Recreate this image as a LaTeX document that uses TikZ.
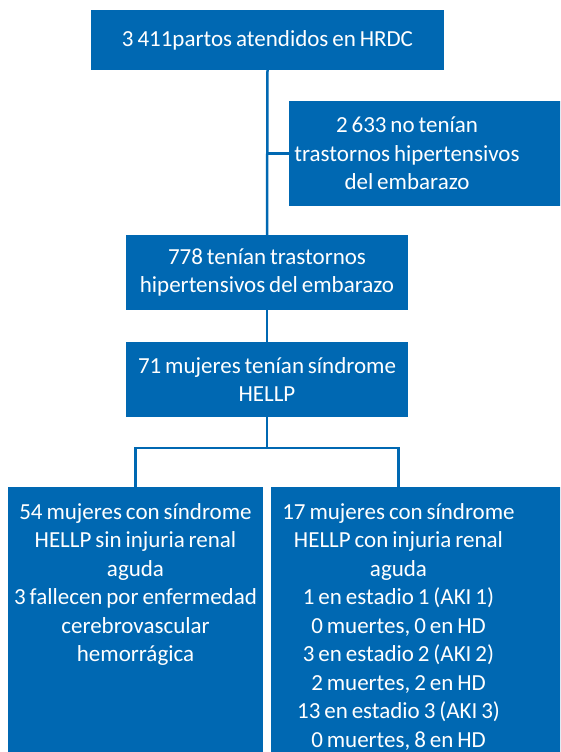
\documentclass[tikz,border=0pt]{standalone}
\usepackage{fontspec}
\setmainfont[WordSpace=0.75]{Carlito}
\definecolor{azul}{RGB}{0,104,178}

\begin{document}
\begin{tikzpicture}[x=1pt,y=-1pt,
  caja/.style={fill=azul,text=white,align=flush center,inner sep=0pt,
    font=\fontsize{23}{28.5}\selectfont},
  linea/.style={draw=azul,line width=2.5pt}]
\clip (0,0) rectangle (560,752);

\node[caja,minimum width=353,minimum height=60] (partos) at (267.5,40) {3 411partos atendidos en HRDC};
\node[caja,minimum width=236,minimum height=105] (sinthe) at (407,153.5) {2 633 no tenían\\trastornos hipertensivos\\del embarazo};
\fill[azul] (sinthe.north east) rectangle ([xshift=40pt]sinthe.south east);

\node[caja,minimum width=282,minimum height=75] (conthe) at (267,272.5) {778 tenían trastornos\\hipertensivos del embarazo};
\node[caja,minimum width=282,minimum height=75] (hellp) at (267,379.5) {71 mujeres tenían síndrome\\HELLP};

\node[caja,anchor=north,text width=255pt,text height=18pt,text depth=250pt,inner ysep=14pt] (sinaki) at (135.5,487)
  {54 mujeres con síndrome\\HELLP sin injuria renal\\aguda\\3 fallecen por enfermedad\\cerebrovascular\\hemorrágica};
\node[caja,anchor=north,text width=255pt,text height=18pt,text depth=250pt,inner ysep=14pt] (conaki) at (398.5,487)
  {17 mujeres con síndrome\\HELLP con injuria renal\\aguda\\1 en estadio 1 (AKI 1)\\0 muertes, 0 en HD\\3 en estadio 2 (AKI 2)\\2 muertes, 2 en HD\\13 en estadio 3 (AKI 3)\\0 muertes, 8 en HD};
\fill[azul] (conaki.north east) rectangle ([xshift=40pt]conaki.south east);

\coordinate (rama) at ([yshift=-31pt]hellp.south);

\draw[linea] (partos.south) -- (conthe.north);
\draw[linea] (sinthe.west) -- (sinthe.west -| partos.south);
\draw[linea] (conthe.south) -- (hellp.north);
\draw[linea] (hellp.south) -- (rama);
\draw[linea] (sinaki.north) |- (rama) -| (conaki.north);

\end{tikzpicture}
\end{document}
